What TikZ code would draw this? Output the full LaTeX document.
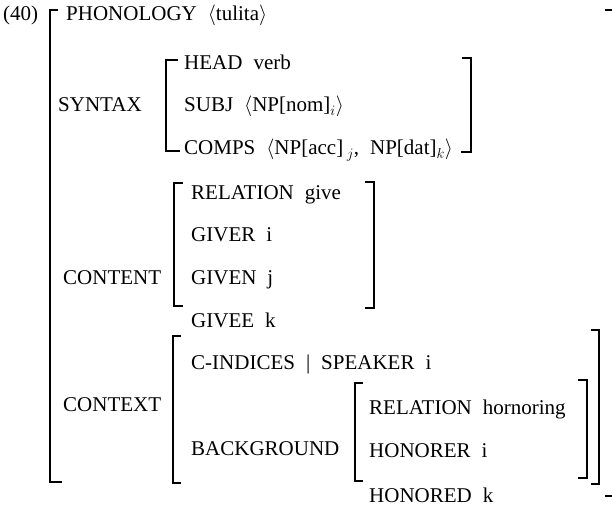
\documentclass[tikz,border=0pt]{standalone}
\usepackage{fontspec}
\setmainfont{Liberation Serif}
\newcommand\avmfont{\fontsize{21}{24}\selectfont\spaceskip 11pt plus 1pt\relax}
\begin{document}
\begin{tikzpicture}[x=1pt,y=-1pt,
  lbl/.style={anchor=base west, inner sep=0pt, font=\avmfont},
  brk/.style={line width=1.1pt}]
\useasboundingbox (0,0) rectangle (612,505);
% texts
\node[lbl] (n40)   at (3,21)    {(40)};
\node[lbl] (phon)  at (66,21)   {PHONOLOGY $\langle$tulita$\rangle$};
\node[lbl] (head)  at (184,70)  {HEAD verb};
\node[lbl] (syn)   at (58,112)  {SYNTAX};
\node[lbl] (subj)  at (184,112) {SUBJ $\langle$NP[nom]$_i\rangle$};
\node[lbl] (comps) at (184,155) {COMPS $\langle$NP[acc]\,$_j$, NP[dat]$_k\rangle$};
\node[lbl] (rel)   at (191,199) {RELATION give};
\node[lbl] (giver) at (191,241) {GIVER i};
\node[lbl] (cont)  at (63,284)  {CONTENT};
\node[lbl] (given) at (191,284) {GIVEN j};
\node[lbl] (givee) at (191,327) {GIVEE k};
\node[lbl] (cind)  at (191,369) {C-INDICES | SPEAKER i};
\node[lbl] (ctx)   at (63,411)  {CONTEXT};
\node[lbl] (back)  at (191,455) {BACKGROUND};
\node[lbl] (relh)  at (369,414) {RELATION hornoring};
\node[lbl] (honr)  at (369,457) {HONORER i};
\node[lbl] (hond)  at (369,502) {HONORED k};
% outer bracket
\draw[brk] (58,10) -- (50,10) -- (50,482) -- (62,482);
\draw[brk] (605,10) -- (612,10);
\draw[brk] (605,496) -- (612,496);
% SYNTAX
\draw[brk] (178,60) -- (166,60) -- (166,151) -- (180,151);
\draw[brk] (462,58) -- (471,58) -- (471,152) -- (461,152);
% CONTENT
\draw[brk] (183,183) -- (174,183) -- (174,306) -- (183,306);
\draw[brk] (365,182) -- (374,182) -- (374,308) -- (365,308);
% CONTEXT
\draw[brk] (181,336) -- (173,336) -- (173,483) -- (181,483);
\draw[brk] (591,330) -- (599,330) -- (599,484) -- (591,484);
% BACKGROUND
\draw[brk] (363,383) -- (355,383) -- (355,481) -- (363,481);
\draw[brk] (578,380) -- (587,380) -- (587,478) -- (578,478);
\end{tikzpicture}
\end{document}
